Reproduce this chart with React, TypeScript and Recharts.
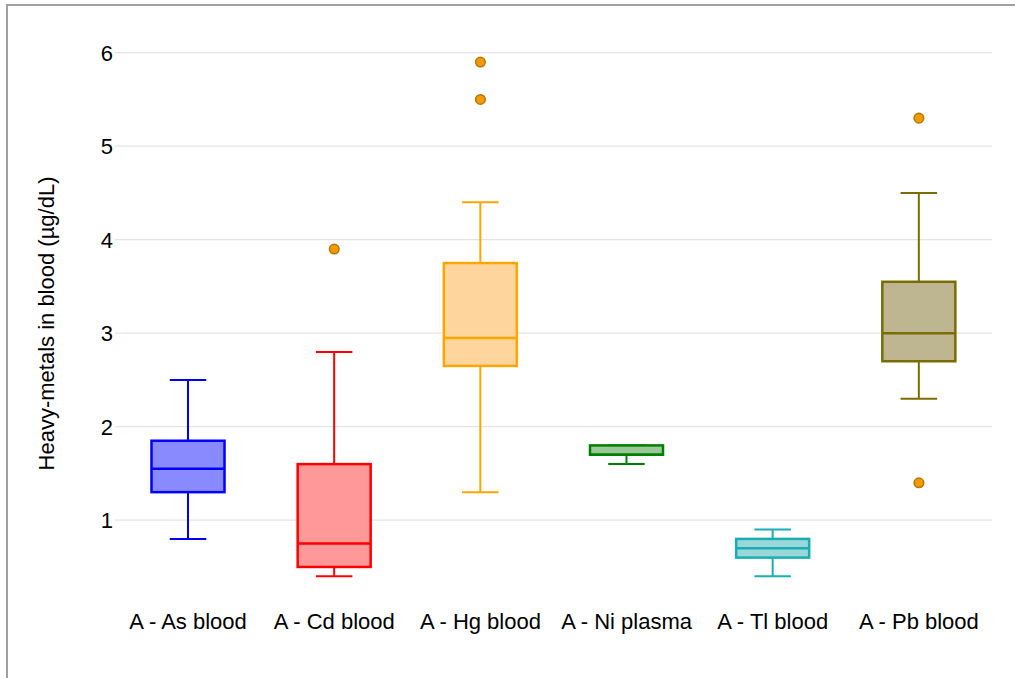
import React from 'react';
import {
  ComposedChart,
  Bar,
  Scatter,
  XAxis,
  YAxis,
  CartesianGrid,
} from 'recharts';

const categories = ['A - As blood', 'A - Cd blood', 'A - Hg blood', 'A - Ni plasma', 'A - Tl blood', 'A - Pb blood'];
const mins = [0.8, 0.4, 1.3, 1.6, 0.4, 2.3];
const q1s = [1.3, 0.5, 2.65, 1.7, 0.6, 2.7];
const medians = [1.55, 0.75, 2.95, 1.7, 0.7, 3.0];
const q3s = [1.85, 1.6, 3.75, 1.8, 0.8, 3.55];
const maxs = [2.5, 2.8, 4.4, 1.8, 0.9, 4.5];
const strokes = ['#0000ff', '#ff0000', '#ffa500', '#008000', '#17aeb4', '#7a6d00'];
const fills = ['#8080ff', '#ff9090', '#fdd195', '#8fc28f', '#93d4d6', '#b8b088'];

const outlierCats = ['A - Cd blood', 'A - Hg blood', 'A - Hg blood', 'A - Pb blood', 'A - Pb blood'];
const outlierValues = [3.9, 5.5, 5.9, 5.3, 1.4];

const yTicks = [1, 2, 3, 4, 5, 6];

const FONT = '"Liberation Sans", Arial, Helvetica, sans-serif';

const data = categories.map((name, i) => ({
  name,
  range: [mins[i], maxs[i]],
  min: mins[i],
  q1: q1s[i],
  median: medians[i],
  q3: q3s[i],
  max: maxs[i],
  stroke: strokes[i],
  fill: fills[i],
}));

const outliers = outlierCats.map((name, i) => ({ name, value: outlierValues[i] }));

// box drawn inside the min..max range bar, positions scaled from that bar
function BoxShape(props: any) {
  const { x, y, width, height, payload } = props;
  if (x == null || y == null) return null;
  const top = Math.min(y, y + height);
  const bottom = Math.max(y, y + height);
  const span = payload.max - payload.min || 1;
  const pix = (v: number) => top + ((payload.max - v) / span) * (bottom - top);
  const cx = x + width / 2;
  const bw = width / 2;
  const cw = width / 4;
  const c = payload.stroke;
  return (
    <g>
      <line x1={cx} x2={cx} y1={pix(payload.max)} y2={pix(payload.q3)} stroke={c} strokeWidth={2} />
      <line x1={cx} x2={cx} y1={pix(payload.q1)} y2={pix(payload.min)} stroke={c} strokeWidth={2} />
      <line x1={cx - cw / 2} x2={cx + cw / 2} y1={pix(payload.max)} y2={pix(payload.max)} stroke={c} strokeWidth={2} />
      <line x1={cx - cw / 2} x2={cx + cw / 2} y1={pix(payload.min)} y2={pix(payload.min)} stroke={c} strokeWidth={2} />
      <rect
        x={cx - bw / 2}
        y={pix(payload.q3)}
        width={bw}
        height={pix(payload.q1) - pix(payload.q3)}
        fill={payload.fill}
        fillOpacity={0.92}
        stroke={c}
        strokeWidth={2.5}
      />
      <line x1={cx - bw / 2} x2={cx + bw / 2} y1={pix(payload.median)} y2={pix(payload.median)} stroke={c} strokeWidth={2.5} />
    </g>
  );
}

function YTitle(props: any) {
  const vb = props.viewBox || {};
  const cy = vb.y + vb.height / 2 + 9;
  return (
    <text
      x={46}
      y={cy}
      transform={`rotate(-90, 46, ${cy})`}
      textAnchor="middle"
      dominantBaseline="central"
      fontSize={22}
      fontFamily={FONT}
      fill="#000"
    >
      Heavy-metals in blood (µg/dL)
    </text>
  );
}

export default function App() {
  return (
    <div style={{ position: 'absolute', left: 0, top: 0, width: 1015, height: 678, background: '#fff' }}>
      <div
        style={{
          position: 'absolute',
          left: 6,
          top: 4,
          width: 1009,
          height: 674,
          borderTop: '2px solid #a0a0a0',
          borderLeft: '2px solid #a0a0a0',
        }}
      />
      <div style={{ position: 'absolute', left: 0, top: 0 }}>
        <ComposedChart
          width={1015}
          height={678}
          data={data}
          margin={{ top: 34, right: 23, bottom: 53, left: 55 }}
          barCategoryGap={0}
        >
          <CartesianGrid vertical={false} syncWithTicks stroke="#e4e4e8" strokeWidth={1.3} />
          <XAxis
            dataKey="name"
            allowDuplicatedCategory={false}
            axisLine={false}
            tickLine={false}
            tickSize={0}
            tickMargin={18}
            interval={0}
            tick={{ fontSize: 22, fill: '#000', fontFamily: FONT }}
          />
          <YAxis
            width={60}
            domain={[0.2, 6.2]}
            ticks={yTicks}
            axisLine={false}
            tickLine={false}
            tickSize={0}
            tickMargin={2}
            tick={{ fontSize: 22, fill: '#000', fontFamily: FONT }}
            label={<YTitle />}
          />
          <Bar dataKey="range" shape={<BoxShape />} isAnimationActive={false} />
          <Scatter
            data={outliers}
            dataKey="value"
            fill="#f39a00"
            stroke="#b87400"
            strokeWidth={1.5}
            shape={(p: any) => <circle cx={p.cx} cy={p.cy} r={4.8} fill="#f39a00" stroke="#b87400" strokeWidth={1.5} />}
            isAnimationActive={false}
          />
        </ComposedChart>
      </div>
    </div>
  );
}
